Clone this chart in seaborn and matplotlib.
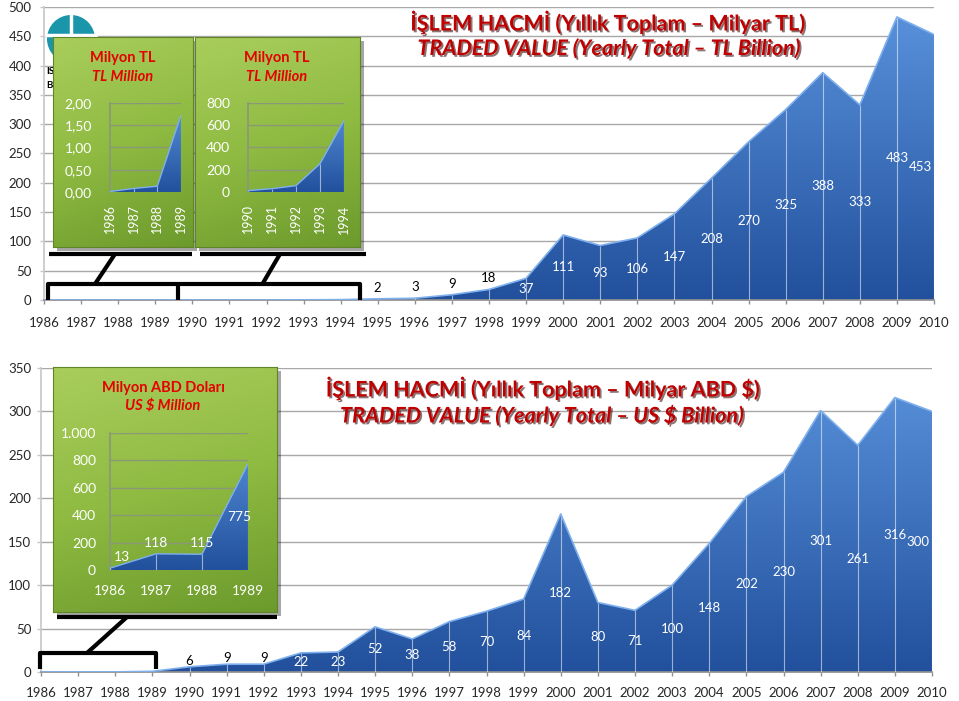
import numpy as np
import pandas as pd
import seaborn as sns
import matplotlib
matplotlib.use("Agg")
import matplotlib.pyplot as plt
from matplotlib.colors import LinearSegmentedColormap
from matplotlib.lines import Line2D
from matplotlib.patches import Rectangle, Ellipse
import matplotlib.patheffects as pe

# ---------------- data ----------------
years = list(range(1986, 2011))

# TL traded value, inset 1 (million TL)
tl_inset1_years = [1986, 1987, 1988, 1989]
tl_inset1 = [0.01, 0.08, 0.13, 1.73]
# TL traded value, inset 2 (million TL)
tl_inset2_years = [1990, 1991, 1992, 1993, 1994]
tl_inset2 = [12, 30, 57, 254, 642]
# TL traded value (billion TL), 1995-2010
tl_main_years = list(range(1995, 2011))
tl_main = [2, 3, 9, 18, 37, 111, 93, 106, 147, 208, 270, 325, 388, 333, 483, 453]

# USD traded value, inset (million US$)
usd_inset_years = [1986, 1987, 1988, 1989]
usd_inset = [13, 118, 115, 775]
# USD traded value (billion US$), 1990-2010
usd_main_years = list(range(1990, 2011))
usd_main = [6, 9, 9, 22, 23, 52, 38, 58, 70, 84, 182, 80, 71, 100, 148, 202,
            230, 301, 261, 316, 300]

inset1_yticklabels = ["0,00", "0,50", "1,00", "1,50", "2,00"]
inset2_yticklabels = ["0", "200", "400", "600", "800"]
usd_inset_yticklabels = ["0", "200", "400", "600", "800", "1.000"]

title_tl_1 = "İŞLEM HACMİ (Yıllık Toplam – Milyar TL)"
title_tl_2 = "TRADED VALUE (Yearly Total – TL Billion)"
title_usd_1 = "İŞLEM HACMİ (Yıllık Toplam – Milyar ABD $)"
title_usd_2 = "TRADED VALUE (Yearly Total – US $ Billion)"

# combined series for main charts (million -> billion)
tl_series = pd.DataFrame({
    "year": tl_inset1_years + tl_inset2_years + tl_main_years,
    "value": [v / 1000 for v in tl_inset1 + tl_inset2] + tl_main,
})
usd_series = pd.DataFrame({
    "year": usd_inset_years + usd_main_years,
    "value": [v / 1000 for v in usd_inset] + usd_main,
})

# ---------------- style ----------------
sns.set_theme(style="white")
plt.rcParams["font.family"] = ["Lato", "DejaVu Sans"]

W, H = 959, 701
fig = plt.figure(figsize=(W / 100, H / 100), dpi=100)
fig.patch.set_facecolor("white")


def box(l, t, r, b):
    return [l / W, 1 - b / H, (r - l) / W, (b - t) / H]


def fpt(x, y):
    return x / W, 1 - y / H


BLUE_TOP = "#5a93dc"
BLUE_BOT = "#22509c"
EDGE = "#7fb0ee"
TICK_FS = 9.5


def area(ax, x, y, ytop, lw=1.2):
    x = np.asarray(x, float)
    y = np.asarray(y, float)
    coll = ax.fill_between(x, 0, y, facecolor="none", edgecolor="none")
    path = coll.get_paths()[0]
    cmap = LinearSegmentedColormap.from_list("b", [BLUE_BOT, BLUE_TOP])
    im = ax.imshow(np.linspace(0, 1, 256).reshape(-1, 1),
                   extent=[x.min(), x.max(), 0, ytop], origin="lower",
                   aspect="auto", cmap=cmap, zorder=2, interpolation="bilinear")
    im.set_clip_path(path, transform=ax.transData)
    ax.vlines(x, 0, y, colors="white", lw=0.8, alpha=0.55, zorder=3)
    sns.lineplot(x=x, y=y, ax=ax, color=EDGE, lw=lw, zorder=4)


def style_main(ax, ymax, ystep, xpad, ypad):
    ax.set_xlim(1986, 2010)
    ax.set_ylim(0, ymax)
    ax.set_xticks(years)
    ax.set_xticklabels([str(y) for y in years])
    ax.set_yticks(np.arange(0, ymax + 1, ystep))
    ax.grid(axis="y", color="#a8a8a8", lw=1)
    ax.grid(axis="x", visible=False)
    ax.set_axisbelow(True)
    for s in ["top", "right"]:
        ax.spines[s].set_visible(False)
    ax.spines["left"].set_color("#c8c8c8")
    ax.spines["bottom"].set_color("#909090")
    ax.tick_params(axis="x", length=3, width=1, color="#909090", pad=xpad,
                   labelsize=TICK_FS, bottom=True)
    ax.tick_params(axis="y", length=3, width=1, color="#c8c8c8", pad=ypad,
                   labelsize=TICK_FS, left=True)
    ax.set_xlabel("")
    ax.set_ylabel("")


def labels_main(ax, xs, vs, small_off):
    n = len(xs)
    for i, (x, v) in enumerate(zip(xs, vs)):
        dx = -14 if i == n - 1 else 0
        if v < 20:
            ax.annotate(str(v), (x, v), xytext=(dx, small_off),
                        textcoords="offset pixels", ha="center", va="center",
                        fontsize=TICK_FS, color="black", zorder=6,
                        annotation_clip=False, clip_on=False)
        else:
            ax.annotate(str(v), (x, v / 2), xytext=(dx, 0),
                        textcoords="offset pixels", ha="center", va="center",
                        fontsize=TICK_FS, color="white", zorder=6,
                        annotation_clip=False, clip_on=False)


# ---------------- top chart ----------------
ax1 = fig.add_axes(box(44, 7, 934, 300))
area(ax1, tl_series["year"], tl_series["value"], 500)
style_main(ax1, 500, 50, 9, 6)
labels_main(ax1, tl_main_years, tl_main, 11)

# ---------------- bottom chart ----------------
ax2 = fig.add_axes(box(41, 368, 932, 672))
area(ax2, usd_series["year"], usd_series["value"], 350)
style_main(ax2, 350, 50, 7.5, 4)
labels_main(ax2, usd_main_years, usd_main, 6)

# ---------------- titles ----------------
shadow = [pe.SimplePatchShadow(offset=(1.3, -1.3), shadow_rgbFace="#2a0000",
                               alpha=0.55), pe.Normal()]
for txt, (cx, cy), st in [(title_tl_1, (608, 22), "normal"),
                          (title_tl_2, (609, 48), "italic"),
                          (title_usd_1, (543, 388), "normal"),
                          (title_usd_2, (542, 415), "italic")]:
    t = fig.text(*fpt(cx, cy), txt, ha="center", va="center", fontsize=15.5,
                 fontweight="bold", style=st, color="#c00000", zorder=10)
    t.set_path_effects(shadow)

# ---------------- logo (mostly hidden) ----------------
fig.add_artist(Ellipse(fpt(71, 39), 48 / W, 48 / H, transform=fig.transFigure,
                       facecolor="#1b95aa", edgecolor="none", zorder=1))
fig.add_artist(Line2D([71 / W, 71 / W], [1 - 14 / H, 1 - 64 / H],
                      transform=fig.transFigure, color="white", lw=2.5, zorder=1))
fig.add_artist(Line2D([46 / W, 96 / W], [1 - 35 / H, 1 - 35 / H],
                      transform=fig.transFigure, color="white", lw=2.5, zorder=1))
fig.text(*fpt(46, 72), "IS", fontsize=7, fontweight="bold", color="black",
         va="center", zorder=1)
fig.text(*fpt(46, 86), "B", fontsize=7, fontweight="bold", color="black",
         va="center", zorder=1)

# ---------------- insets ----------------
GREEN = LinearSegmentedColormap.from_list("g", ["#6c9a2c", "#8fbb42", "#a9cd5c"])


def green_box(l, t, r, b):
    sh = Rectangle(fpt(l + 4, b + 4), (r - l) / W, (b - t) / H,
                   transform=fig.transFigure, facecolor="black", alpha=0.35,
                   edgecolor="none", zorder=4)
    fig.add_artist(sh)
    bg = fig.add_axes(box(l, t, r, b), zorder=5)
    yy, xx = np.mgrid[0:1:200j, 0:1:200j]
    g = 0.8 * yy + 0.2 * (1 - xx)
    bg.imshow(g, extent=[0, 1, 0, 1], origin="lower", aspect="auto",
              cmap=GREEN, vmin=0, vmax=1, interpolation="bilinear")
    bg.set_xlim(0, 1)
    bg.set_ylim(0, 1)
    bg.set_xticks([])
    bg.set_yticks([])
    for s in bg.spines.values():
        s.set_color("#5f8526")
        s.set_linewidth(0.8)
    return bg


def style_inset(ax, xs, ymax, ystep, ylabels, rot, ypad, xpad, xsize):
    ax.set_facecolor("none")
    ax.set_xlim(xs[0], xs[-1])
    ax.set_ylim(0, ymax)
    ax.set_xticks(xs)
    ax.set_xticklabels([str(x) for x in xs], rotation=rot)
    ax.set_yticks(np.arange(0, ymax + ystep / 2, ystep))
    ax.set_yticklabels(ylabels)
    ax.grid(axis="y", color="#8a9878", lw=1)
    ax.grid(axis="x", visible=False)
    ax.set_axisbelow(True)
    for s in ["top", "right", "bottom"]:
        ax.spines[s].set_visible(False)
    ax.spines["left"].set_color("#8a9878")
    ax.tick_params(axis="y", colors="white", length=0, pad=ypad, labelsize=10)
    ax.tick_params(axis="x", colors="white", length=0, pad=xpad, labelsize=xsize)
    ax.set_xlabel("")
    ax.set_ylabel("")


def inset_titles(cx, y1, y2, s1, s2):
    fig.text(*fpt(cx, y1), s1, ha="center", va="center", fontsize=10.5,
             fontweight="bold", color="#e60000", zorder=7)
    fig.text(*fpt(cx, y2), s2, ha="center", va="center", fontsize=10.5,
             fontweight="bold", style="italic", color="#e60000", zorder=7)


# inset 1
green_box(53, 37, 193, 247)
a1 = fig.add_axes(box(110, 103, 181, 192), zorder=6)
area(a1, tl_inset1_years, tl_inset1, 2, lw=1.0)
style_inset(a1, tl_inset1_years, 2, 0.5, inset1_yticklabels, 90, 13, 9, 9)
inset_titles(123, 58, 77, "Milyon TL", "TL Million")

# inset 2
green_box(195, 37, 360, 247)
a2 = fig.add_axes(box(248, 103, 344, 192), zorder=6)
area(a2, tl_inset2_years, tl_inset2, 800, lw=1.0)
style_inset(a2, tl_inset2_years, 800, 200, inset2_yticklabels, 90, 13, 9, 9)
inset_titles(277, 58, 77, "Milyon TL", "TL Million")

# inset 3 (USD)
green_box(53, 367, 277, 612)
a3 = fig.add_axes(box(110, 433, 248, 570), zorder=6)
area(a3, usd_inset_years, usd_inset, 1000, lw=1.0)
style_inset(a3, usd_inset_years, 1000, 200, usd_inset_yticklabels, 0, 10, 11, 10)
inset_titles(163, 388, 407, "Milyon ABD Doları", "US $ Million")
n = len(usd_inset)
for i, (x, v) in enumerate(zip(usd_inset_years, usd_inset)):
    if v < 300:
        dx = 12 if i == 0 else 0
        a3.annotate(str(v), (x, v), xytext=(dx, 11), textcoords="offset pixels",
                    ha="center", va="center", fontsize=10, color="white",
                    zorder=7, annotation_clip=False)
    else:
        a3.annotate(str(v), (x, v / 2), xytext=(-9 if i == n - 1 else 0, 0),
                    textcoords="offset pixels", ha="center", va="center",
                    fontsize=10, color="white", zorder=7, annotation_clip=False)

# ---------------- brackets / connectors ----------------
def fline(pts, lw=3.0, z=8):
    xs = [p[0] / W for p in pts]
    ys = [1 - p[1] / H for p in pts]
    fig.add_artist(Line2D(xs, ys, transform=fig.transFigure, color="black",
                          lw=lw, solid_joinstyle="round", solid_capstyle="butt",
                          zorder=z))

# top
fline([(49, 254), (192, 254)])
fline([(200, 254), (366, 254)])
fline([(115, 254), (95, 284)])
fline([(280, 254), (263, 283)])
fline([(48, 300), (48, 284), (360, 284), (360, 300)])
fline([(178, 284), (178, 300)])
# bottom
fline([(57, 617), (277, 617)])
fline([(127, 617), (87, 653)])
fline([(40, 669), (40, 653), (156, 653), (156, 669)])

fig.savefig("out.png", dpi=100, facecolor="white")
